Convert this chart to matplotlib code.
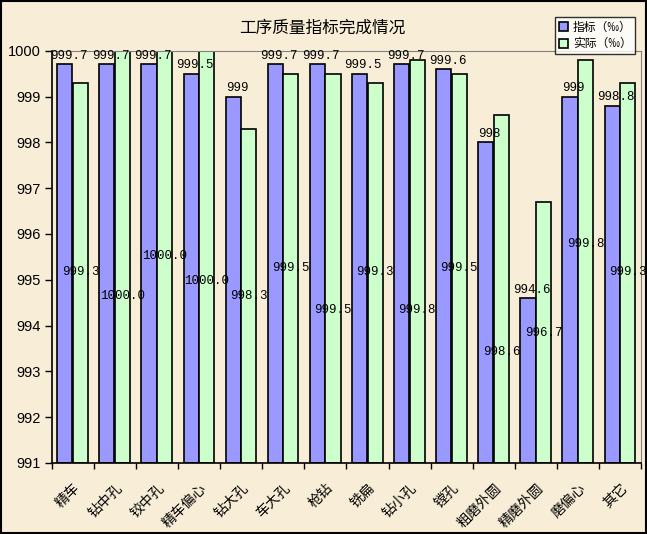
import numpy as np
import matplotlib
matplotlib.use("Agg")
import matplotlib.pyplot as plt
from matplotlib.patches import Rectangle

plt.rcParams['font.family'] = ['Noto Sans CJK SC', 'DejaVu Sans']

# data
processes = ['精车', '钻中孔', '铰中孔', '精车偏心', '钻大孔', '车大孔', '枪钻',
             '铣扁', '钻小孔', '镗孔', '粗磨外圆', '精磨外圆', '磨偏心', '其它']
target = [999.7, 999.7, 999.7, 999.5, 999.0, 999.7, 999.7,
          999.5, 999.7, 999.6, 998.0, 994.6, 999.0, 998.8]
actual = [999.3, 1000.0, 1000.0, 1000.0, 998.3, 999.5, 999.5,
          999.3, 999.8, 999.5, 998.6, 996.7, 999.8, 999.3]
target_txt = ['999.7', '999.7', '999.7', '999.5', '999', '999.7', '999.7',
              '999.5', '999.7', '999.6', '998', '994.6', '999', '998.8']
# where excel dropped the "actual" labels (they float mid-chart)
actual_lbl_y = [995.16, 994.64, 995.52, 994.98, 994.64, 995.26, 994.33,
                995.16, 994.35, 995.26, 993.42, 993.83, 995.79, 995.16]

bg = '#F8EED7'
fig = plt.figure(figsize=(6.47, 5.34), dpi=100, facecolor=bg)
ax = fig.add_axes([0.080, 0.133, 0.911, 0.772])
ax.set_facecolor(bg)

x = np.arange(len(processes))
w = 0.36
base = 991
ax.bar(x - 0.19, np.array(target) - base, w, bottom=base, color='#9999FF',
       edgecolor='black', linewidth=1.2, label='指标（‰）', zorder=2)
ax.bar(x + 0.18, np.array(actual) - base, w, bottom=base, color='#CCFFCC',
       edgecolor='black', linewidth=1.2, label='实际（‰）', zorder=2)

for i in range(len(x)):
    ax.text(x[i] - 0.1, target[i] + 0.05, target_txt[i], ha='center', va='bottom',
            family='Liberation Mono', fontsize=9, zorder=3)
    ax.text(x[i] + 0.18, actual_lbl_y[i], '%.1f' % actual[i], ha='center', va='center',
            family='Liberation Mono', fontsize=9, zorder=3)

ax.set_xlim(-0.5, len(x) - 0.5)
ax.set_ylim(991, 1000)
ax.set_yticks(range(991, 1001))
ax.set_yticklabels([str(v) for v in range(991, 1001)], family='Liberation Sans', fontsize=10.5)
ax.set_xticks(x)
ax.set_xticklabels(processes, rotation=45, ha='right', rotation_mode='anchor', fontsize=10)
ax.set_xticks(np.arange(-0.5, len(x)), minor=True)
ax.tick_params(axis='x', which='major', length=0, pad=13)
ax.tick_params(axis='x', which='minor', length=4, direction='out', width=1)
ax.tick_params(axis='y', length=5, direction='out', width=1, pad=3)

for s in ['top', 'right']:
    ax.spines[s].set_color('#808080')
for s in ['left', 'bottom']:
    ax.spines[s].set_color('black')
    ax.spines[s].set_linewidth(1.2)

fig.text(0.498, 0.947, '工序质量指标完成情况', ha='center', va='center', fontsize=12)

leg = fig.legend(loc='upper right', bbox_to_anchor=(0.991, 0.979), fontsize=8.5,
                 frameon=True, fancybox=False, handlelength=0.8, handleheight=0.8,
                 handletextpad=0.4, borderpad=0.3, labelspacing=0.3)
leg.get_frame().set_edgecolor('black')
leg.get_frame().set_facecolor('white')
leg.get_frame().set_linewidth(1.0)

fig.patches.append(Rectangle((0.001, 0.001), 0.997, 0.997, transform=fig.transFigure,
                             fill=False, edgecolor='black', linewidth=1.5))

fig.savefig('out.png', dpi=100, facecolor=bg)
